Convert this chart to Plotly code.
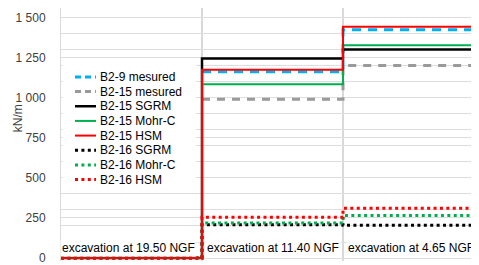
import plotly.graph_objects as go

# ---- data ----
stage_x = [0, 1, 2, 3]          # stage boundaries on the x axis
categories = ["excavation at 19.50 NGF", "excavation at 11.40 NGF", "excavation at 4.65 NGF"]
category_x = [0.5, 1.5, 2.5]

series_names = ["B2-9 mesured", "B2-15 mesured", "B2-15 SGRM", "B2-15 Mohr-C", "B2-15 HSM",
                "B2-16 SGRM", "B2-16 Mohr-C", "B2-16 HSM"]
b2_9_mesured = [None, 1163, 1425]
b2_15_mesured = [None, 991, 1202]
b2_15_sgrm = [0, 1245, 1302]
b2_15_mohr = [0, 1085, 1327]
b2_15_hsm = [0, 1175, 1443]
b2_16_sgrm = [0, 208, 204]
b2_16_mohr = [0, 218, 265]
b2_16_hsm = [0, 254, 311]
series_values = [b2_9_mesured, b2_15_mesured, b2_15_sgrm, b2_15_mohr, b2_15_hsm,
                 b2_16_sgrm, b2_16_mohr, b2_16_hsm]

y_tick_vals = [0, 250, 500, 750, 1000, 1250, 1500]
y_tick_text = ["0", "250", "500", "750", "1 000", "1 250", "1 500"]
y_minor_step = 100

# ---- styles ----
styles = [
    dict(color="#00B0F0", width=3, dash="9px,7px"),
    dict(color="#9A9A9A", width=3, dash="8px,7px"),
    dict(color="#000000", width=2.5, dash="solid"),
    dict(color="#00B050", width=2, dash="solid"),
    dict(color="#FF0000", width=2, dash="solid"),
    dict(color="#000000", width=3, dash="3px,3.4px"),
    dict(color="#00B050", width=3, dash="3px,3.4px"),
    dict(color="#FF0000", width=3, dash="3px,3.4px"),
]

OFF = 8                       # page body margin
W, H = 479 - OFF, 265 - OFF
ML, MR, MT, MB = 61 - OFF, 0, 0, 0
PW, PH = W - ML - MR, H - MT - MB
FONT = "Liberation Sans"


def px(x):  # reference window pixel -> paper
    return (x - OFF - ML) / PW


def py(y):
    return (H - MB - (y - OFF)) / PH


fig = go.Figure()
for name, vals, st in zip(series_names, series_values, styles):
    yv = vals + [vals[-1]]
    fig.add_trace(go.Scatter(
        x=stage_x, y=yv, mode="lines", name=name, line_shape="hv",
        line=dict(color=st["color"], width=st["width"], dash=st["dash"]),
        showlegend=False, hoverinfo="skip"))

shapes = []
annotations = []

# legend (white box, samples, labels)
shapes.append(dict(type="rect", xref="paper", yref="paper", x0=px(63), x1=px(196),
                   y0=py(64), y1=py(191), fillcolor="white", line=dict(width=0), layer="above"))
row0, drow = 78, 14.9
for i, (name, st) in enumerate(zip(series_names, styles)):
    yc = row0 + drow * i
    shapes.append(dict(type="line", xref="paper", yref="paper", x0=px(75), x1=px(96),
                       y0=py(yc), y1=py(yc),
                       line=dict(color=st["color"], width=st["width"],
                                 dash="6px,4px" if "7px" in st["dash"] else st["dash"]),
                       layer="above"))
    annotations.append(dict(xref="paper", yref="paper", x=px(97.5), y=py(yc), text=name,
                            showarrow=False, xanchor="left", yanchor="middle",
                            font=dict(family=FONT, size=12, color="#000000")))

# category labels
for cx, cat, xs in zip(category_x, categories, [-3, 0, -3]):
    annotations.append(dict(xref="x", yref="y", x=cx, y=61, text=cat, showarrow=False,
                            xanchor="center", yanchor="middle", xshift=xs,
                            bgcolor="white", borderpad=1,
                            font=dict(family=FONT, size=12, color="#000000")))

# y axis title
annotations.append(dict(xref="paper", yref="paper", x=px(18), y=py(120), text="kN/m",
                        textangle=-90, showarrow=False, xanchor="center", yanchor="middle",
                        font=dict(family=FONT, size=12, color="#404040")))

# gridlines every 100 plus labelled ticks every 250
label_map = dict(zip(y_tick_vals, y_tick_text))
grid_vals = sorted(set(y_tick_vals) | set(range(0, max(y_tick_vals) + 1, y_minor_step)))
grid_text = [label_map.get(v, "") for v in grid_vals]

zero_px = 262 - OFF
scale = (262 - 17.8) / 1500.0
y_top = (zero_px - MT) / scale
y_bot = (zero_px - (H - MB)) / scale

fig.update_layout(
    width=W, height=H,
    margin=dict(l=ML, r=MR, t=MT, b=MB, pad=0),
    paper_bgcolor="white", plot_bgcolor="white",
    showlegend=False,
    shapes=shapes, annotations=annotations,
    xaxis=dict(range=[0, PW / 141.0], tickmode="linear", tick0=0, dtick=1,
               showgrid=True, gridcolor="#D9D9D9", gridwidth=1.5,
               showticklabels=False, zeroline=False, showline=False, ticks=""),
    yaxis=dict(range=[y_bot, y_top], tickmode="array", tickvals=grid_vals, ticktext=grid_text,
               showgrid=True, gridcolor="#DEDEDE", gridwidth=1,
               zeroline=False, showline=True, linecolor="#D9D9D9", linewidth=1,
               ticks="", ticklabelstandoff=12, ticklabeloverflow="allow",
               tickfont=dict(family=FONT, size=12, color="#404040")),
)

fig.write_html("out.html")
